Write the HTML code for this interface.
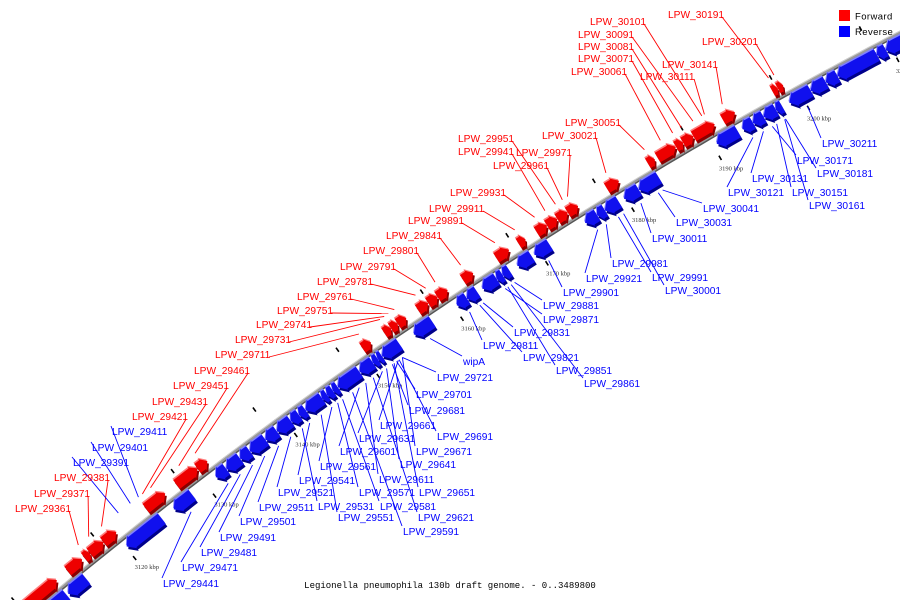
<!DOCTYPE html>
<html><head><meta charset="utf-8"><title>Legionella genome map</title>
<style>
html,body{margin:0;padding:0;background:#fff;width:900px;height:600px;overflow:hidden;}
svg{display:block;overflow:hidden;}
</style></head>
<body>
<svg id="chart" width="900" height="600" viewBox="0 0 900 600" xmlns="http://www.w3.org/2000/svg">
  <g id="backbone"></g>
  <g id="ticks"></g>
  <g id="leaders"></g>
  <g id="genes"></g>
  <g id="labels"></g>
  <g>
    <rect x="839" y="10" width="11" height="11" fill="#ff0000"/>
    <text x="855" y="19.5" font-family="Liberation Sans, sans-serif" font-size="9.5" fill="#000" letter-spacing="0.4">Forward</text>
    <rect x="839" y="26" width="11" height="11" fill="#0000ff"/>
    <text x="855" y="35" font-family="Liberation Sans, sans-serif" font-size="9.5" fill="#000" letter-spacing="0.4">Reverse</text>
  </g>
  <text x="450" y="588" text-anchor="middle" font-family="Liberation Mono, monospace" font-size="9" fill="#000">Legionella pneumophila 130b draft genome. - 0..3489800</text>
</svg>
<script>
// ---- data (kbp) ----
const fwdStart = [3106.5,3114.1,3116.2,3116.9,3118.6,3123.9,3127.7,3130.3,3150.3,3152.9,3153.7,3154.5,3156.9,3158.1,3159.2,3162.2,3166.1,3168.7,3170.8,3172.0,3173.2,3174.4,3178.9,3183.6,3184.7,3186.8,3187.6,3188.8,3192.1,3197.7,3198.3];
const fwdEnd   = [3112.7,3115.9,3116.9,3118.6,3120.2,3126.3,3130.3,3131.5,3151.3,3153.7,3154.5,3155.5,3158.1,3159.2,3160.4,3163.4,3167.6,3169.5,3172.0,3173.2,3174.4,3175.6,3180.3,3184.4,3186.8,3187.6,3188.8,3191.2,3193.5,3198.3,3198.9];
const revStart = [3110.0,3112.7,3120.1,3126.0,3131.2,3132.5,3134.2,3135.4,3137.3,3138.7,3140.4,3141.4,3142.2,3144.2,3144.8,3145.5,3146.1,3148.7,3150.3,3150.9,3151.4,3155.2,3160.3,3161.5,3163.3,3165.0,3165.7,3167.4,3169.4,3175.3,3176.7,3177.6,3179.8,3181.5,3190.4,3193.3,3194.5,3195.7,3197.1,3198.6,3201.0,3202.7,3204.0,3208.4,3209.4];
const revEnd   = [3112.5,3115.0,3124.5,3128.3,3132.5,3134.2,3135.4,3137.3,3138.7,3140.4,3141.4,3142.2,3144.2,3144.8,3145.5,3146.1,3148.7,3150.3,3150.9,3151.4,3153.5,3157.4,3161.5,3162.7,3165.0,3165.7,3166.5,3169.1,3171.2,3176.7,3177.6,3179.2,3181.5,3183.8,3192.8,3194.5,3195.7,3197.1,3197.8,3201.0,3202.7,3204.0,3208.4,3209.4,3213.0];
const tickKbp = [3110,3120,3130,3140,3150,3160,3170,3180,3190,3200,3210];
const tickLabels = ["3110 kbp","3120 kbp","3130 kbp","3140 kbp","3150 kbp","3160 kbp","3170 kbp","3180 kbp","3190 kbp","3200 kbp","3210 kbp"];

const labelNames = ["LPW_29361","LPW_29371","LPW_29381","LPW_29421","LPW_29431","LPW_29451","LPW_29461","LPW_29711","LPW_29731","LPW_29741","LPW_29751","LPW_29761","LPW_29781","LPW_29791","LPW_29801","LPW_29841","LPW_29891","LPW_29911","LPW_29931","LPW_29941","LPW_29951","LPW_29961","LPW_29971","LPW_30021","LPW_30051","LPW_30061","LPW_30071","LPW_30081","LPW_30091","LPW_30101","LPW_30111","LPW_30141","LPW_30191","LPW_30201",
"LPW_29391","LPW_29401","LPW_29411","LPW_29441","LPW_29471","LPW_29481","LPW_29491","LPW_29501","LPW_29511","LPW_29521","LPW_29531","LPW_29541","LPW_29551","LPW_29561","LPW_29571","LPW_29581","LPW_29591","LPW_29601","LPW_29611","LPW_29621","LPW_29631","LPW_29641","LPW_29651","LPW_29661","LPW_29671","LPW_29681","LPW_29691","LPW_29701","LPW_29721","wipA","LPW_29811","LPW_29821","LPW_29831","LPW_29851","LPW_29861","LPW_29871","LPW_29881","LPW_29901","LPW_29921","LPW_29981","LPW_29991","LPW_30001","LPW_30011","LPW_30031","LPW_30041","LPW_30121","LPW_30131","LPW_30151","LPW_30161","LPW_30171","LPW_30181","LPW_30211"];
const labelStrand = ["f","f","f","f","f","f","f","f","f","f","f","f","f","f","f","f","f","f","f","f","f","f","f","f","f","f","f","f","f","f","f","f","f","f",
"r","r","r","r","r","r","r","r","r","r","r","r","r","r","r","r","r","r","r","r","r","r","r","r","r","r","r","r","r","r","r","r","r","r","r","r","r","r","r","r","r","r","r","r","r","r","r","r","r","r","r","r"];
const labelKbp = [3116.5,3117.8,3119.4,3124.5,3125.5,3129.0,3131.0,3150.8,3153.3,3153.8,3154.3,3155.0,3157.5,3158.7,3159.8,3162.8,3166.8,3169.1,3171.4,3172.6,3173.8,3174.6,3175.2,3179.6,3184.0,3185.8,3187.2,3188.2,3189.5,3190.5,3190.8,3192.8,3198.0,3198.6,
3121.5,3123.0,3124.0,3127.2,3131.8,3133.3,3134.8,3136.3,3138.0,3139.5,3140.9,3141.8,3143.2,3144.5,3145.2,3145.8,3147.0,3147.8,3148.6,3149.5,3150.6,3151.1,3152.0,3152.5,3153.0,3151.8,3152.6,3152.3,3153.0,3156.3,3161.0,3162.2,3162.6,3165.5,3165.9,3165.2,3166.3,3170.3,3176.0,3177.0,3178.4,3179.0,3181.0,3183.0,3183.5,3193.8,3195.0,3196.5,3197.4,3196.0,3197.5,3200.0];
const labelsAbove = ["LPW_29391","LPW_29401","LPW_29411"];

// ---- layout (text positions; not data) ----
const labelLayoutX = [15,34,54,132,152,173,194,215,235,256,277,297,317,340,363,386,408,429,450,458,458,493,516,542,565,571,578,578,578,590,640,662,668,702,
73,92,112,163,182,201,220,240,259,278,318,299,338,320,359,380,403,340,379,418,359,400,419,380,416,409,437,416,437,463,483,523,514,556,584,543,543,563,586,612,652,665,652,676,703,728,752,792,809,797,817,822];
const labelLayoutY = [508,493,477,416,401,385,370,354,339,324,310,296,281,266,250,235,220,208,192,151,138,165,152,135,122,71,58,46,34,21,76,64,14,41,
462,447,431,583,567,552,537,521,507,492,506,480,517,466,492,506,531,451,479,517,438,464,492,425,451,410,436,394,377,361,345,357,332,370,383,319,305,292,278,263,277,290,238,222,208,192,178,192,205,160,173,143];

// ---- geometry ----
const CX = 3130, CY = 4312, R = 4826;
const A0 = Math.atan2(541 - CY, 121 - CX);
const A1 = Math.atan2(89 - CY, 798 - CX);
function ang(k){ return A0 + (k - 3120) * (A1 - A0) / 80; }
function pt(k, off){ const a = ang(k), r = R + off; return [CX + r*Math.cos(a), CY + r*Math.sin(a)]; }
const NS = "http://www.w3.org/2000/svg";
function mk(tag, attrs, parent){ const e = document.createElementNS(NS, tag); for (const k in attrs) e.setAttribute(k, attrs[k]); parent.appendChild(e); return e; }
function P(a){ return a.map(p => p[0].toFixed(1)+","+p[1].toFixed(1)).join(" "); }
function shift(a, dx, dy){ return a.map(p => [p[0]+dx, p[1]+dy]); }

const bb = document.getElementById("backbone");
let bpts = []; for (let k = 3103; k <= 3220; k += 1) bpts.push(pt(k, 0));
const bl1 = mk("polyline", {points: P(shift(bpts,0.8,1.2)), fill:"none", stroke:"#555", "stroke-width":"3"}, bb);


const bl2 = mk("polyline", {points: P(bpts), fill:"none", stroke:"#9a9a9a", "stroke-width":"3"}, bb);


const bl3 = mk("polyline", {points: P(shift(bpts,-0.6,-0.9)), fill:"none", stroke:"#d0d0d0", "stroke-width":"1"}, bb);



const tg = document.getElementById("ticks");
tickKbp.forEach((k, i) => {
  const a = pt(k, -21), b = pt(k, -26);
  const t1 = mk("line", {x1:a[0], y1:a[1], x2:b[0], y2:b[1], stroke:"#000", "stroke-width":"1.6"}, tg);
  
  
  const c = pt(k - 1.8, 19), d = pt(k - 1.8, 24);
  const t2 = mk("line", {x1:c[0], y1:c[1], x2:d[0], y2:d[1], stroke:"#000", "stroke-width":"1.6"}, tg);
  
  
  const lp = pt(k + 0.4, -38);
  const tx = mk("text", {x:lp[0].toFixed(1), y:(lp[1]+2).toFixed(1), "text-anchor":"middle", "font-family":"Liberation Serif, serif", "font-size":"6.5", fill:"#333"}, tg);
  
  
  tx.textContent = tickLabels[i];
});

const gg = document.getElementById("genes");
function geneShape(s, e, fwd){
  const r1 = fwd ? 3 : -3, r2 = fwd ? 14 : -16, rm = (r1 + r2) / 2;
  const len = e - s, hl = Math.min(0.7, len * 0.5);
  const ex = fwd ? 1.5 : -1.5;
  const pts = [];
  if (fwd){
    const b = e - hl;
    for (let k = s; k <= b; k += Math.max(0.5,(b-s)/6)) pts.push(pt(k, r1));
    pts.push(pt(b, r1)); pts.push(pt(b, r1 - ex)); pts.push(pt(e, rm)); pts.push(pt(b, r2 + ex)); pts.push(pt(b, r2));
    const top = []; for (let k = s; k <= b; k += Math.max(0.5,(b-s)/6)) top.push(pt(k, r2));
    pts.push(...top.reverse());
  } else {
    const b = s + hl;
    pts.push(pt(s, rm)); pts.push(pt(b, r1 - ex)); pts.push(pt(b, r1));
    for (let k = b; k <= e; k += Math.max(0.5,(e-b)/6)) pts.push(pt(k, r1));
    pts.push(pt(e, r1)); pts.push(pt(e, r2));
    const bot = []; for (let k = b; k <= e; k += Math.max(0.5,(e-b)/6)) bot.push(pt(k, r2));
    pts.push(...bot.reverse()); pts.push(pt(b, r2)); pts.push(pt(b, r2 + ex));
  }
  return pts;
}
function drawGene(s, e, fwd){
  const g = mk("g", {}, gg);
  
  
  const sh = geneShape(s, e, fwd);
  mk("polygon", {points: P(shift(sh, 1.6, 2.6)), fill: fwd ? "#8a0000" : "#00008a"}, g);
  mk("polygon", {points: P(shift(sh, -0.8, -1.4)), fill: fwd ? "#ff8080" : "#8080ff"}, g);
  mk("polygon", {points: P(sh), fill: fwd ? "#ee0000" : "#1010ee"}, g);
}
fwdStart.forEach((s, i) => drawGene(s, fwdEnd[i], true));
revStart.forEach((s, i) => drawGene(s, revEnd[i], false));

const lg = document.getElementById("labels"), ld = document.getElementById("leaders");
labelNames.forEach((name, i) => {
  const fwd = labelStrand[i] === "f";
  const col = fwd ? "#ff0000" : "#0000ff";
  const x = labelLayoutX[i], cy = labelLayoutY[i];
  const w = name.length * 5.9;
  const above = fwd || labelsAbove.indexOf(name) >= 0;
  const end = pt(labelKbp[i], above ? 22 : -22);
  let sx, sy;
  if (fwd){ sx = x + w + 1; sy = cy + 3; } else { sx = x - 1; sy = cy - 5; }
  const ln = mk("line", {x1:sx.toFixed(1), y1:sy.toFixed(1), x2:end[0].toFixed(1), y2:end[1].toFixed(1), stroke:col, "stroke-width":"0.9"}, ld);
  
  
  const t = mk("text", {x:x, y:(cy+3.8).toFixed(1), "font-family":"Liberation Sans, sans-serif", "font-size":"10.2", fill:col}, lg);
  
  
  t.textContent = name;
});
</script>
</body></html>
